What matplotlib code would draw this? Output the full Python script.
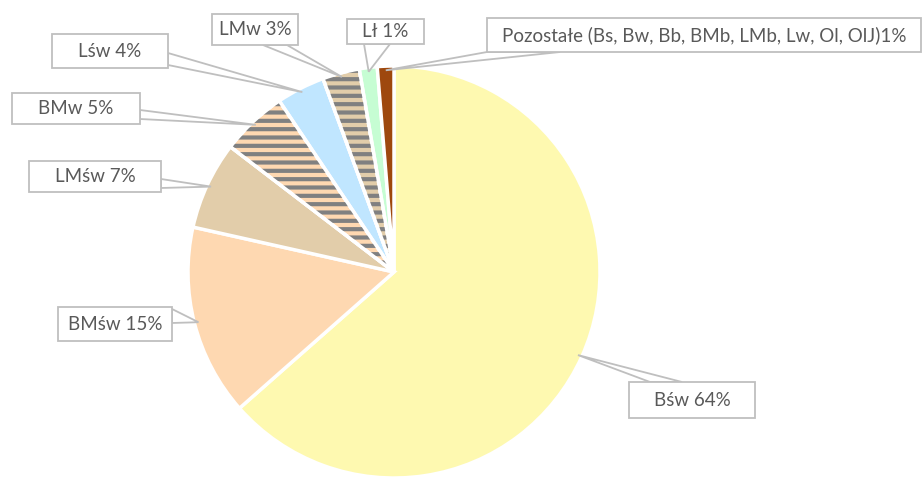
import matplotlib
matplotlib.use("Agg")
import matplotlib.pyplot as plt
from matplotlib.patches import Wedge, Polygon, Rectangle
import numpy as np

plt.rcParams['font.family'] = ['Lato', 'DejaVu Sans']
plt.rcParams['hatch.linewidth'] = 3.0

# data
labels = ['Bśw', 'BMśw', 'LMśw', 'BMw', 'Lśw', 'LMw', 'Lł',
          'Pozostałe (Bs, Bw, Bb, BMb, LMb, Lw, Ol, OlJ)']
values = [63.5, 15.0, 6.9, 5.2, 3.8, 2.9, 1.4, 1.3]
pct_labels = [64, 15, 7, 5, 4, 3, 1, 1]
seps = [' ', ' ', ' ', ' ', ' ', ' ', ' ', '']
colors = ['#FEF9B0', '#FED8B1', '#E2CDAA', '#FED8B1',
          '#C0E6FF', '#E2CDAA', '#C6FDD3', '#9E480E']
hatched = [False, False, False, True, False, True, False, False]

W, H = 922, 479
cx, cy, R = 394, 272, 206   # screen px

# callout boxes (x0, y0, x1, y1) and pointer base points, screen px
boxes = [(629, 382, 755, 418), (58, 307, 172, 341), (29, 161, 161, 192),
         (12, 93, 140, 124), (52, 34, 168, 68), (212, 14, 298, 45),
         (347, 19, 424, 44), (487, 18, 921, 52)]
bases = [((650, 382), (682, 382)), ((172, 309), (172, 323)),
         ((161, 179), (161, 188)), ((140, 110), (140, 119)),
         ((168, 53), (168, 65)), ((263, 45), (287, 45)),
         ((364, 44), (390, 44)), ((487, 52), (560, 52))]

fig = plt.figure(figsize=(W / 100, H / 100), dpi=100)
ax = fig.add_axes([0, 0, 1, 1])

wedges, _ = ax.pie(values, colors=colors, startangle=90, counterclock=False,
                   center=(cx, H - cy), radius=R,
                   wedgeprops=dict(edgecolor='white', linewidth=2.5))

# horizontal stripes on hatched slices
for w, h in zip(wedges, hatched):
    if h:
        ax.add_patch(Wedge(w.center, w.r, w.theta1, w.theta2, facecolor='none',
                           edgecolor='#808080', hatch='--', linewidth=0, zorder=3))
        ax.add_patch(Wedge(w.center, w.r, w.theta1, w.theta2, fill=False,
                           edgecolor='white', linewidth=2.5, zorder=4))

ec = '#BFBFBF'
for w, lab, p, s, box, base in zip(wedges, labels, pct_labels, seps, boxes, bases):
    mid = np.deg2rad((w.theta1 + w.theta2) / 2)
    tip = (w.center[0] + 0.98 * R * np.cos(mid), w.center[1] + 0.98 * R * np.sin(mid))
    b1 = (base[0][0], H - base[0][1])
    b2 = (base[1][0], H - base[1][1])
    ax.add_patch(Polygon([tip, b1, b2], closed=True, facecolor='white',
                         edgecolor=ec, linewidth=1.3, zorder=5))
    x0, y0, x1, y1 = box
    ax.add_patch(Rectangle((x0, H - y1), x1 - x0, y1 - y0, facecolor='white',
                           edgecolor=ec, linewidth=1.3, zorder=6))
    ax.text((x0 + x1) / 2, H - (y0 + y1) / 2, f"{lab}{s}{p}%", ha='center',
            va='center', fontsize=13.5, color='#595959', zorder=7)

ax.set_xlim(0, W)
ax.set_ylim(0, H)
ax.axis('off')

fig.savefig('out.png', dpi=100)
